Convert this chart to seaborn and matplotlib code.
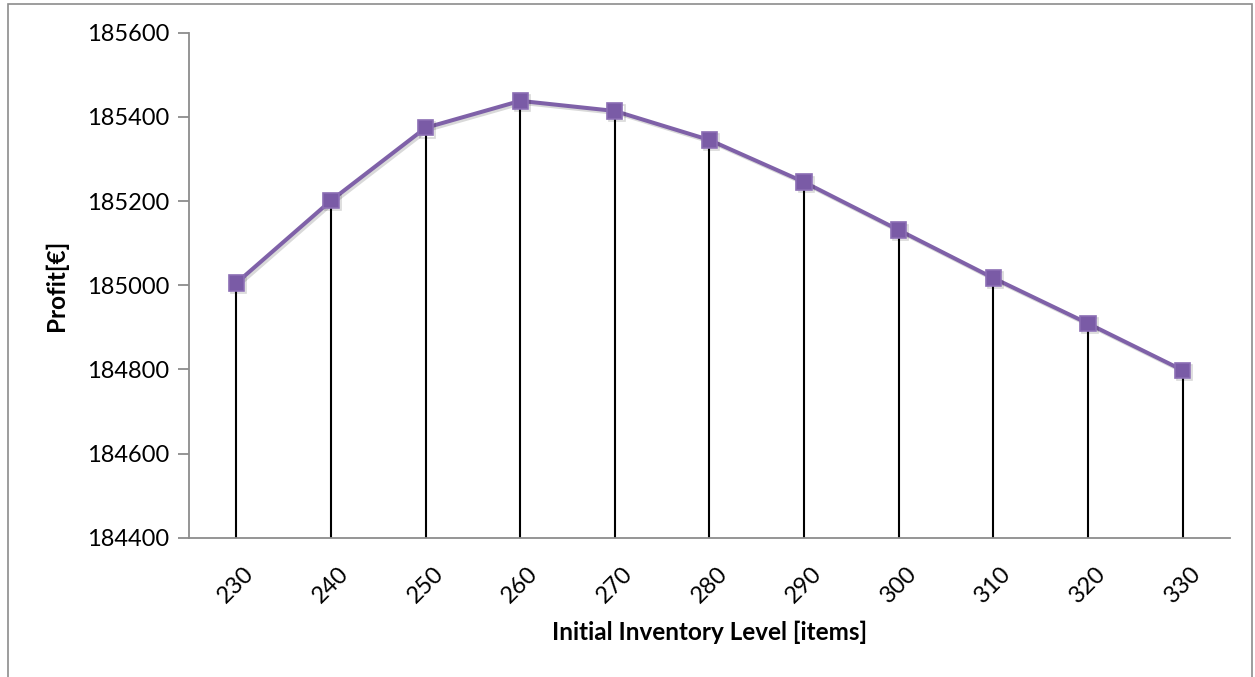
import matplotlib
matplotlib.use("Agg")
import matplotlib.pyplot as plt
import matplotlib.patheffects as pe
from matplotlib.patches import Rectangle
import seaborn as sns
import pandas as pd

# Profit for each initial inventory level
inventory_levels = [230, 240, 250, 260, 270, 280, 290, 300, 310, 320, 330]
profit = [185005, 185201, 185374, 185438, 185414, 185345, 185245,
          185131, 185017, 184909, 184798]
y_ticks = [184400, 184600, 184800, 185000, 185200, 185400, 185600]

df = pd.DataFrame({"level": inventory_levels, "profit": profit})

sns.set_theme(style="white")
plt.rcParams["font.family"] = ["Lato", "DejaVu Sans"]

fig = plt.figure(figsize=(12.55, 6.77), dpi=100)
ax = fig.add_axes([0.1506, 0.2058, 0.8294, 0.7459])

y_min, y_max = y_ticks[0], y_ticks[-1]

# Drop lines from the axis floor to each point
ax.vlines(df["level"], y_min, df["profit"], color="black", lw=1.5, zorder=2)

purple = "#7F61A8"
sns.lineplot(data=df, x="level", y="profit", ax=ax, color=purple, lw=2.9,
             marker="s", markersize=11, markerfacecolor="#7A5BA6",
             markeredgecolor="#8B6EB4", markeredgewidth=1.2, zorder=3,
             path_effects=[pe.SimpleLineShadow(offset=(1.5, -1.5), alpha=0.15,
                                               shadow_color="black"),
                           pe.Normal()])

ax.set_xlim(inventory_levels[0] - 5, inventory_levels[-1] + 5)
ax.set_ylim(y_min, y_max)
ax.set_xticks(inventory_levels)
ax.set_xticklabels([str(v) for v in inventory_levels], rotation=45,
                   ha="center", va="top", fontsize=17, color="black")
ax.set_yticks(y_ticks)
ax.set_yticklabels([str(v) for v in y_ticks], fontsize=17, color="black")

for side in ["top", "right"]:
    ax.spines[side].set_visible(False)
for side in ["left", "bottom"]:
    ax.spines[side].set_color("#8C8C8C")
    ax.spines[side].set_linewidth(1.3)

ax.tick_params(axis="y", which="major", left=True, length=8, width=1.3,
               color="#8C8C8C", pad=6)
ax.tick_params(axis="x", which="major", bottom=False, pad=12)

ax.set_xlabel("Initial Inventory Level [items]", fontsize=17.5,
              fontweight="bold", color="black", labelpad=10)
ax.set_ylabel("Profit[€]", fontsize=17.5, fontweight="bold", color="black",
              labelpad=14)

# Chart-area frame
fig.patches.append(Rectangle((0.0064, -0.02), 0.9912, 1.014,
                             transform=fig.transFigure, fill=False,
                             edgecolor="#8C8C8C", lw=1.2, zorder=0))

fig.savefig("out.png", dpi=100, facecolor="white")
